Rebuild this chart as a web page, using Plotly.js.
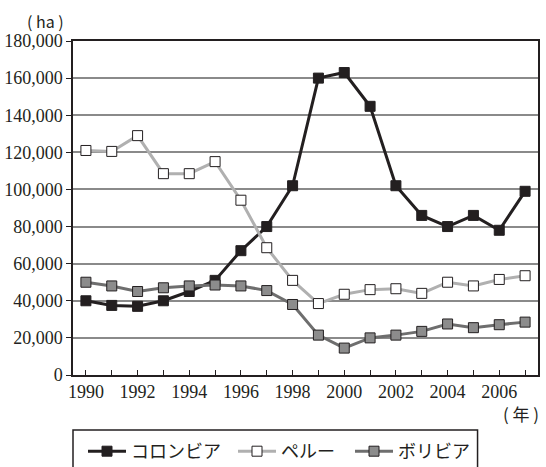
<!DOCTYPE html>
<html>
<head>
<meta charset="utf-8">
<script src="https://cdn.plot.ly/plotly-3.0.1.min.js"></script>
<style>
html,body{margin:0;padding:0;background:#fff;}
#chart{width:546px;height:467px;}
</style>
</head>
<body>
<div id="chart"></div>
<script>
const years = [1990,1991,1992,1993,1994,1995,1996,1997,1998,1999,2000,2001,2002,2003,2004,2005,2006,2007];
const colombia = [40000,37500,37000,40000,45000,51000,67000,80000,102000,160000,163000,144800,102000,86000,80000,86000,78000,99000];
const peru = [121000,120500,129000,108500,108500,115000,94200,68600,51000,38500,43500,46000,46500,44000,50000,48000,51500,53500];
const bolivia = [50000,48000,45000,47000,48000,48500,48000,45500,38000,21500,14500,20000,21500,23500,27500,25500,27100,28500];
const seriesNames = ['コロンビア','ペルー','ボリビア'];
const xTickLabels = years.map(y => (y % 2 === 0 ? String(y) : ''));
const yTickVals = [0,20000,40000,60000,80000,100000,120000,140000,160000,180000];

const serif = 'Liberation Serif, Times New Roman, serif';
const gothic = 'Noto Sans CJK JP, Noto Sans, sans-serif';

const traces = [
  {x: years, y: colombia, name: seriesNames[0], type: 'scatter', mode: 'lines+markers', legend: 'legend',
   line: {color: '#231f20', width: 3},
   marker: {symbol: 'square', size: 10, color: '#231f20', line: {color: '#231f20', width: 1}}},
  {x: years, y: peru, name: seriesNames[1], type: 'scatter', mode: 'lines+markers', legend: 'legend2',
   line: {color: '#b0b0b0', width: 3},
   marker: {symbol: 'square', size: 10, color: '#ffffff', line: {color: '#231f20', width: 1}}},
  {x: years, y: bolivia, name: seriesNames[2], type: 'scatter', mode: 'lines+markers', legend: 'legend3',
   line: {color: '#6e6e6e', width: 3},
   marker: {symbol: 'square', size: 10, color: '#8c8c8c', line: {color: '#231f20', width: 1}}}
];

function legendAt(px) {
  return {orientation: 'h', xref: 'container', yref: 'container',
          x: px/546, xanchor: 'left', y: (467-433)/467, yanchor: 'top',
          bgcolor: 'rgba(0,0,0,0)', borderwidth: 0, itemwidth: 38,
          font: {family: gothic, size: 18, color: '#231f20'}};
}

const layout = {
  width: 546, height: 467,
  margin: {l: 73, r: 8, t: 41, b: 92, autoexpand: false},
  paper_bgcolor: '#fff', plot_bgcolor: '#fff',
  showlegend: true,
  legend: legendAt(83),
  legend2: legendAt(233),
  legend3: legendAt(350),
  xaxis: {range: [1989.5, 2007.5], tickmode: 'array', tickvals: years, ticktext: xTickLabels,
          ticks: 'inside', ticklen: 5, tickcolor: '#231f20', showgrid: false, zeroline: false,
          showline: true, linecolor: '#231f20', linewidth: 1.5, mirror: true,
          tickfont: {family: serif, size: 18, color: '#231f20'}},
  yaxis: {range: [0, 180000], tickmode: 'array', tickvals: yTickVals, tickformat: ',',
          ticks: 'outside', ticklen: 5, tickcolor: '#231f20', showgrid: true, gridcolor: '#8a8a8a', gridwidth: 1.5,
          zeroline: false, showline: true, linecolor: '#231f20', linewidth: 1.5, mirror: true,
          tickfont: {family: serif, size: 18, color: '#231f20'}},
  shapes: [
    {type: 'rect', xref: 'paper', yref: 'paper', x0: 0, x1: 0.870, y0: -0.1647, y1: -0.4,
     line: {color: '#231f20', width: 1.5}, fillcolor: 'rgba(0,0,0,0)'}
  ],
  annotations: [
    {text: '( ha )', xref: 'paper', yref: 'paper', x: -0.0587, y: 1.06, xanchor: 'center', yanchor: 'middle',
     showarrow: false, font: {family: gothic, size: 16, color: '#231f20'}},
    {text: '( 年 )', xref: 'paper', yref: 'paper', x: 0.963, y: -0.1138, xanchor: 'center', yanchor: 'middle',
     showarrow: false, font: {family: gothic, size: 17, color: '#231f20'}}
  ]
};

Plotly.newPlot('chart', traces, layout, {displayModeBar: false});
</script>
</body>
</html>
